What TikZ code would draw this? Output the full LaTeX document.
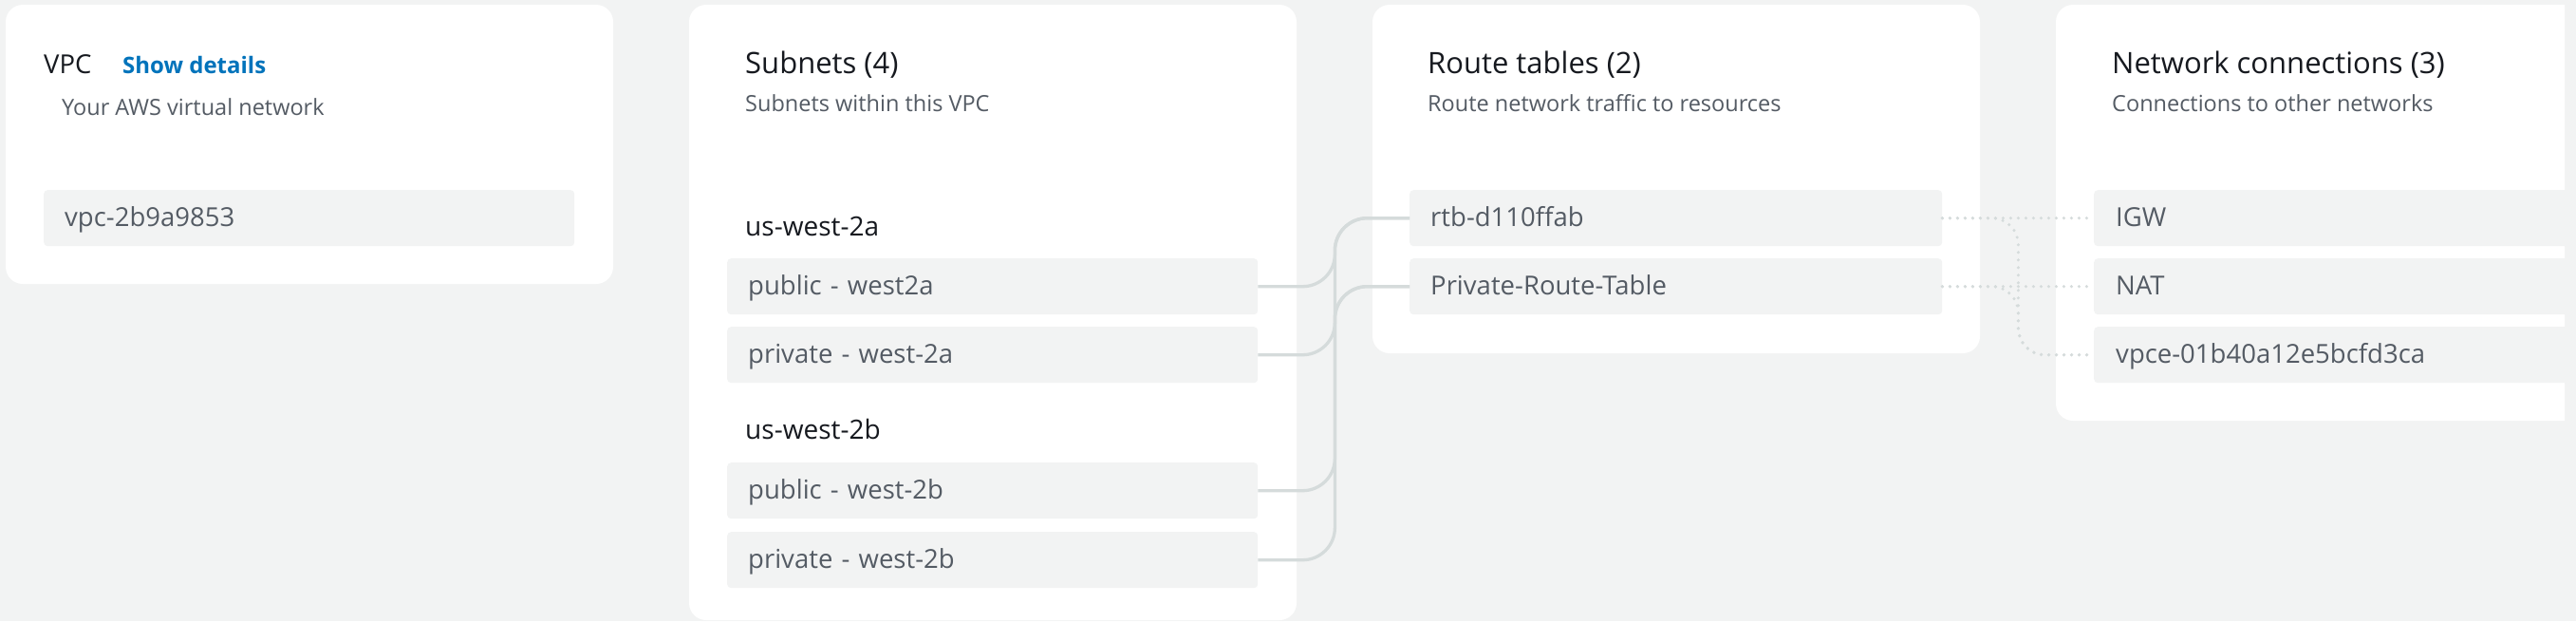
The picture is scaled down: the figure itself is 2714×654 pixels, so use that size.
\documentclass[tikz,border=0pt]{standalone}
\usepackage{fontspec}
\setmainfont{Open Sans}
\definecolor{bggray}{HTML}{F2F3F3}
\definecolor{boxgray}{HTML}{F2F3F3}
\definecolor{titlecol}{HTML}{16191F}
\definecolor{subcol}{HTML}{545B64}
\definecolor{linkcol}{HTML}{0073BB}
\definecolor{linecol}{HTML}{D5DBDB}
\begin{document}
\begin{tikzpicture}[x=1pt,y=-1pt,
  card/.style={fill=white, rounded corners=18pt},
  item/.style={fill=boxgray, rounded corners=4pt, anchor=north west,
    minimum height=59pt, inner xsep=22pt, inner ysep=0pt, text width=#1,
    align=left, text height=20pt, text depth=3pt,
    font=\fontsize{27.5}{32}\selectfont, text=subcol},
  title/.style={anchor=base west, inner sep=0pt, text=titlecol, font=\fontsize{31}{37}\selectfont},
  subtitle/.style={anchor=base west, inner sep=0pt, text=subcol, font=\fontsize{23.5}{28}\selectfont},
  azlabel/.style={anchor=base west, inner sep=0pt, text=titlecol, font=\fontsize{28}{34}\selectfont},
  link/.style={draw=linecol, line width=3.3pt, rounded corners=34pt},
  dotlink/.style={draw=linecol, line width=3.4pt, line cap=round, dash pattern=on 0pt off 8pt, rounded corners=28pt}
]
\useasboundingbox (0,0) rectangle (2714,654);
\fill[bggray] (0,0) rectangle (2714,654);

% VPC card
\path[card] (6,5) rectangle (646,299);
\node[title, font=\fontsize{27.5}{32}\selectfont] (vpctitle) at (46,77) {VPC};
\node[anchor=base west, inner sep=0pt, text=linkcol, font=\fontsize{24}{29}\selectfont\bfseries] (showdet) at (129,77) {Show details};
\node[subtitle] (vpcsub) at (65,121) {Your AWS virtual network};
\node[item=515pt, minimum width=559pt] (vpc) at (46,200) {vpc-2b9a9853};

% Subnets card
\path[card] (726,5) rectangle (1366,653);
\node[title] (subtitle) at (785,77) {Subnets (4)};
\node[subtitle] (subsub) at (785,117) {Subnets within this VPC};
\node[azlabel] (aza) at (785,248) {us-west-2a};
\node[item=515pt, minimum width=559pt] (pub2a) at (766,272) {public - west2a};
\node[item=515pt, minimum width=559pt] (priv2a) at (766,344) {private - west-2a};
\node[azlabel] (azb) at (785,462) {us-west-2b};
\node[item=515pt, minimum width=559pt] (pub2b) at (766,487) {public - west-2b};
\node[item=515pt, minimum width=559pt] (priv2b) at (766,560) {private - west-2b};

% Route tables card
\path[card] (1446,5) rectangle (2086,372);
\node[title] (rttitle) at (1504,77) {Route tables (2)};
\node[subtitle] (rtsub) at (1504,117) {Route network traffic to resources};
\node[item=517pt, minimum width=561pt] (rtb) at (1485,200) {rtb-d110ffab};
\node[item=517pt, minimum width=561pt] (prt) at (1485,272) {Private-Route-Table};

% Network connections card (cut at the right edge)
\begin{scope}
\clip (0,0) rectangle (2702,654);
\path[card] (2166,5) rectangle (2760,443);
\node[title] (nctitle) at (2225,77) {Network connections (3)};
\node[subtitle] (ncsub) at (2225,117) {Connections to other networks};
\node[item=530pt, minimum width=574pt, inner xsep=23pt] (igw) at (2206,200) {IGW};
\node[item=530pt, minimum width=574pt, inner xsep=23pt] (nat) at (2206,272) {NAT};
\node[item=530pt, minimum width=574pt, inner xsep=23pt] (vpce) at (2206,344) {vpce-01b40a12e5bcfd3ca};
\end{scope}

% Subnet -> route table connectors
\draw[link] (pub2a.east) -- ++(81,0) |- (rtb.west);
\draw[link] (priv2a.east) -- ++(81,0) |- (prt.west);
\draw[link] (pub2b.east) -- ++(81,0) |- (rtb.west);
\draw[link] (priv2b.east) -- ++(81,0) |- (prt.west);

% Route table -> network connection connectors
\draw[dotlink] (rtb.east) -- (igw.west);
\draw[dotlink] (prt.east) -- (nat.west);
\draw[dotlink] (rtb.east) -- ++(80,0) |- (vpce.west);
\draw[dotlink] (prt.east) -- ++(80,0) |- (vpce.west);
\end{tikzpicture}
\end{document}
